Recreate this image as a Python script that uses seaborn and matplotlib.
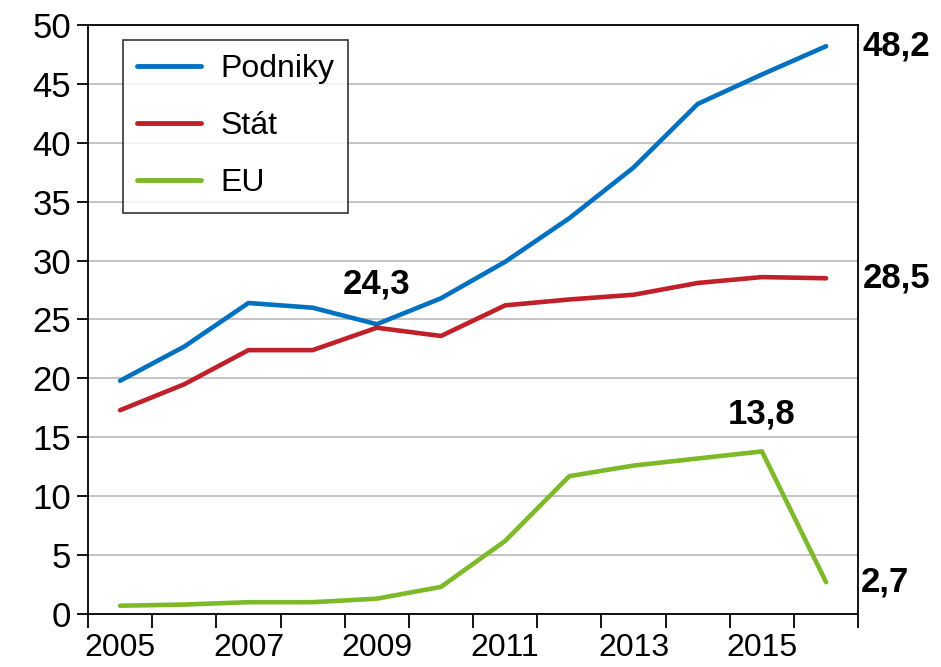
import numpy as np
import pandas as pd
import matplotlib
matplotlib.use("Agg")
import matplotlib.pyplot as plt
import seaborn as sns

# data
years = [2005, 2006, 2007, 2008, 2009, 2010, 2011, 2012, 2013, 2014, 2015, 2016]
podniky = [19.8, 22.7, 26.4, 26.0, 24.6, 26.8, 29.9, 33.6, 37.9, 43.3, 45.8, 48.2]
stat = [17.3, 19.5, 22.4, 22.4, 24.3, 23.6, 26.2, 26.7, 27.1, 28.1, 28.6, 28.5]
eu = [0.7, 0.8, 1.0, 1.0, 1.3, 2.3, 6.2, 11.7, 12.6, 13.2, 13.8, 2.7]
series_names = ["Podniky", "Stát", "EU"]
colors = ["#0070C0", "#C0202A", "#7DB928"]

df = pd.DataFrame({"Rok": years, "Podniky": podniky, "Stát": stat, "EU": eu})
long_df = df.melt(id_vars="Rok", var_name="Zdroj", value_name="Hodnota")

sns.set_style("white")
plt.rcParams["font.family"] = ["Liberation Sans", "DejaVu Sans"]
plt.rcParams["text.color"] = "black"

fig = plt.figure(figsize=(9.41, 6.67), dpi=100)
ax = fig.add_axes([0.0935, 0.0795, 0.8185, 0.883])

sns.lineplot(data=long_df, x="Rok", y="Hodnota", hue="Zdroj",
             hue_order=series_names, palette=colors, linewidth=3.3,
             ax=ax, legend=True)
for line in ax.lines:
    line.set_solid_capstyle("round")
    line.set_solid_joinstyle("round")

ax.set_xlim(2004.5, 2016.5)
ax.set_ylim(0, 50)
ax.set_yticks(np.arange(0, 51, 5))
ax.set_xticks(np.arange(2004.5, 2017, 1))
ax.set_xticklabels([])
ax.set_xticks(years[::2], minor=True)
ax.set_xticklabels([str(y) for y in years[::2]], minor=True, fontsize=23)
ax.tick_params(axis="x", which="major", bottom=True, direction="out",
               length=10, width=1.3, color="black")
ax.tick_params(axis="x", which="minor", bottom=True, length=0, pad=14,
               labelcolor="black")
ax.tick_params(axis="y", left=True, direction="out", length=8, width=1.3,
               color="black", labelcolor="black", labelsize=25, pad=4)
ax.set_xlabel("")
ax.set_ylabel("")

ax.yaxis.grid(True, color="#BFBFBF", linewidth=1.3)
ax.xaxis.grid(False)
for side in ["left", "bottom", "right", "top"]:
    ax.spines[side].set_visible(True)
    ax.spines[side].set_color("black")
    ax.spines[side].set_linewidth(1.3)

leg = ax.legend(loc="upper left", bbox_to_anchor=(0.045, 0.975), fontsize=23,
                frameon=True, fancybox=False, edgecolor="black",
                handlelength=2.0, handletextpad=0.6, labelspacing=0.85,
                borderpad=0.45, borderaxespad=0)
leg.get_frame().set_linewidth(1.2)
for t in leg.get_texts():
    t.set_color("black")
for h in leg.get_lines():
    h.set_linewidth(3.5)
    h.set_solid_capstyle("round")

# value labels
bold = dict(fontsize=25, fontweight="bold", color="black")
ax.text(1.006, podniky[-1], "48,2", transform=ax.get_yaxis_transform(),
        ha="left", va="center", **bold)
ax.text(1.006, stat[-1], "28,5", transform=ax.get_yaxis_transform(),
        ha="left", va="center", **bold)
ax.text(1.003, eu[-1], "2,7", transform=ax.get_yaxis_transform(),
        ha="left", va="center", **bold)
ax.text(years[4], stat[4] + 2.3, "24,3", ha="center", va="bottom", **bold)
ax.text(years[10], eu[10] + 1.8, "13,8", ha="center", va="bottom", **bold)

fig.savefig("out.png", dpi=100)
